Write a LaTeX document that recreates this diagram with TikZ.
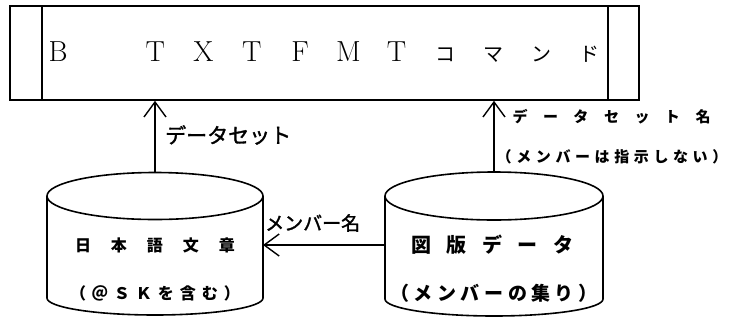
\documentclass[tikz,border=0pt]{standalone}
\usepackage{fontspec}
\newfontfamily\jp{Noto Sans CJK JP}
\newfontfamily\jpm{Noto Sans CJK JP}[FakeBold=1.6]
\usetikzlibrary{arrows.meta}
\makeatletter
\newcommand\spaced[2]{\def\sp@w{#1}\sp@loop#2\sp@end}
\def\sp@loop#1{\ifx#1\sp@end\else\makebox[\sp@w]{#1}\expandafter\sp@loop\fi}
\makeatother
\tikzset{
  line/.style={line width=1.6pt},
  arr/.style={line width=1.4pt,-{Straight Barb[length=15pt,width=22pt,line width=1.4pt]}},
  lbl/.style={inner sep=0pt,font=\jpm},
}
\begin{document}
\begin{tikzpicture}[x=1pt,y=-1pt]
\useasboundingbox (0,0) rectangle (731,322);
% command box
\node[line,draw,inner sep=0pt,minimum width=629pt,minimum height=94pt] (cmd) at (324.5,53) {};
\draw[line] (42,6) -- (42,100);
\draw[line] (608,6) -- (608,100);
\node[inner sep=0pt,font=\fontsize{29}{29}\selectfont] (b) at (58,52) {B};
\node[inner sep=0pt,anchor=west,font=\fontsize{29}{29}\selectfont] (cmdtext) at (130.85,52)
  {\spaced{48.3pt}{TXTFMT}{\jp\fontsize{20}{20}\selectfont\spaced{48.3pt}{コマンド}}};
% left cylinder
\draw[line] (47,196) arc[start angle=180,end angle=-180,x radius=108,y radius=23.5];
\draw[line] (47,196) -- (47,298) arc[start angle=180,end angle=360,x radius=108,y radius=-17] -- (263,196);
\coordinate (Ltop) at (155,172.5);
\coordinate (Lright) at (263,245);
\node[lbl,font=\jp\bfseries\fontsize{16}{16}\selectfont] (nihongo) at (155,245) {\spaced{36pt}{日本語文章}};
\node[lbl,font=\jp\bfseries\fontsize{16}{16}\selectfont] (sk) at (155,293) {\spaced{22pt}{（＠ＳＫを含む）}};
% right cylinder
\draw[line] (385,196) arc[start angle=180,end angle=-180,x radius=109,y radius=24];
\draw[line] (385,196) -- (385,299) arc[start angle=180,end angle=360,x radius=109,y radius=-17] -- (603,196);
\coordinate (Rtop) at (494,172);
\coordinate (Rleft) at (385,245);
\node[lbl,font=\jp\bfseries\fontsize{20}{20}\selectfont] (zuhan) at (492,245) {\spaced{35.5pt}{図版データ}};
\node[lbl,font=\jp\bfseries\fontsize{19}{19}\selectfont] (member) at (494,293) {\spaced{23.5pt}{（メンバーの集り）}};
% connectors
\draw[arr] (Ltop) -- (Ltop |- cmd.south);
\draw[arr] (Rtop) -- (Rtop |- cmd.south);
\draw[arr] (Rleft) -- (Lright);
% labels
\node[lbl,anchor=west,font=\jpm\fontsize{21}{21}\selectfont] (ds) at (165,135) {データセット};
\node[lbl,anchor=west,font=\jpm\fontsize{19}{19}\selectfont] (mn) at (265,223) {メンバー名};
\node[lbl,font=\jp\bfseries\fontsize{15}{15}\selectfont] (dsn) at (611.5,117) {\spaced{30.5pt}{データセット名}};
\node[lbl,font=\jp\bfseries\fontsize{15}{15}\selectfont] (nomem) at (612,157) {\spaced{19.6pt}{（メンバーは指示しない）}};
\end{tikzpicture}
\end{document}
